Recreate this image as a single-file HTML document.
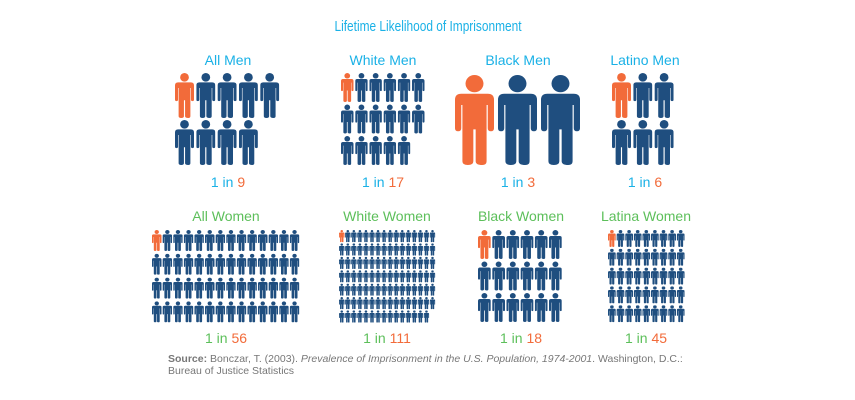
<!DOCTYPE html>
<html><head><meta charset="utf-8"><style>
html,body{margin:0;padding:0;background:#fff;}
svg{display:block;font-family:"Liberation Sans",sans-serif;}
</style></head><body>
<svg id="s" width="855" height="400" viewBox="0 0 855 400" xmlns="http://www.w3.org/2000/svg">
<defs>
<symbol id="p" viewBox="0 0 10 24" preserveAspectRatio="none">
<circle cx="5" cy="2.3" r="2.3"/>
<path d="M1.6 5 H8.4 Q10 5 10 6.6 V14.2 Q10 15 9.2 15 Q8.4 15 8.4 14.2 V8 H8.1 V23 Q8.1 24 7 24 Q5.3 24 5.3 23 V14.5 H4.7 V23 Q4.7 24 3.3 24 Q1.9 24 1.9 23 V8 H1.6 V14.2 Q1.6 15 0.8 15 Q0 15 0 14.2 V6.6 Q0 5 1.6 5 Z"/>
</symbol>
</defs>
<text x="428" y="31" text-anchor="middle" font-size="15" fill="#1ab1e6" textLength="187" lengthAdjust="spacingAndGlyphs">Lifetime Likelihood of Imprisonment</text>
<g font-size="14" text-anchor="middle" fill="#1ab1e6">
<text x="228" y="65">All Men</text>
<text x="383" y="65">White Men</text>
<text x="518" y="65">Black Men</text>
<text x="645" y="65">Latino Men</text>
<text x="228" y="187" font-size="14">1 in <tspan fill="#f26b3a">9</tspan></text>
<text x="383" y="187">1 in <tspan fill="#f26b3a">17</tspan></text>
<text x="518" y="187">1 in <tspan fill="#f26b3a">3</tspan></text>
<text x="645" y="187">1 in <tspan fill="#f26b3a">6</tspan></text>
</g>
<g font-size="14" text-anchor="middle" fill="#5cbf5a">
<text x="226" y="221">All Women</text>
<text x="387" y="221">White Women</text>
<text x="521" y="221">Black Women</text>
<text x="646" y="221">Latina Women</text>
<text x="226" y="343">1 in <tspan fill="#f26b3a">56</tspan></text>
<text x="387" y="343">1 in <tspan fill="#f26b3a">111</tspan></text>
<text x="521" y="343">1 in <tspan fill="#f26b3a">18</tspan></text>
<text x="646" y="343">1 in <tspan fill="#f26b3a">45</tspan></text>
</g>
<text x="168" y="362" font-size="10.5" fill="#777"><tspan font-weight="bold">Source:</tspan> Bonczar, T. (2003). <tspan font-style="italic">Prevalence of Imprisonment in the U.S. Population, 1974-2001</tspan>. Washington, D.C.:</text>
<text x="168" y="374" font-size="10.5" fill="#777">Bureau of Justice Statistics</text>
<g id="figs"></g>
</svg>
<script>
var g=document.getElementById('figs');
function grid(x0,y0,pw,ph,w,h,cols,total){
  for(var i=0;i<total;i++){
    var c=i%cols,r=Math.floor(i/cols);
    var u=document.createElementNS('http://www.w3.org/2000/svg','use');
    u.setAttribute('href','#p');
    u.setAttribute('x',x0+c*pw);u.setAttribute('y',y0+r*ph);
    u.setAttribute('width',w);u.setAttribute('height',h);
    u.setAttribute('fill',i==0?'#f26b3a':'#1f4e7f');
    g.appendChild(u);
  }
}
grid(175,73,21.3,47,19,45,5,9);
grid(341,73,14.2,31.5,12.5,29,6,17);
grid(455,75,43,0,39,90,3,3);
grid(612,73,21.3,47,19,45,3,6);
grid(152,230,10.6,23.8,9.5,21,14,56);
grid(339,230,6.05,13.4,5.5,12.2,16,111);
grid(478,230,14.2,31.5,12.8,29,6,18);
grid(608,230,8.6,18.8,7.8,17,9,45);
</script>
</body></html>
